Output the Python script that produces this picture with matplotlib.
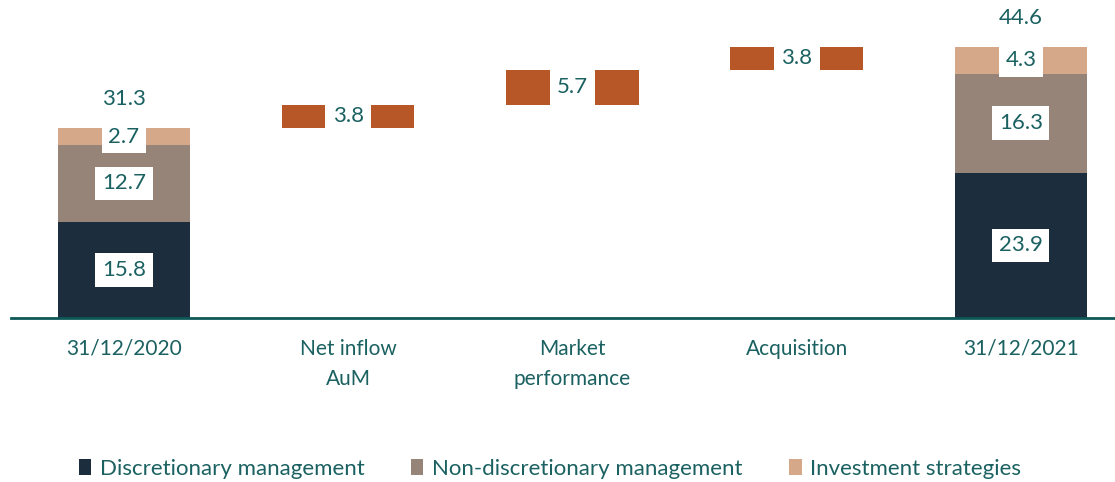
import matplotlib
matplotlib.use("Agg")
import matplotlib.pyplot as plt
from matplotlib.patches import Patch
import numpy as np

categories = ['31/12/2020', 'Net inflow\nAuM', 'Market\nperformance', 'Acquisition', '31/12/2021']
discretionary = [15.8, 23.9]
non_discretionary = [12.7, 16.3]
investment = [2.7, 4.3]
totals = [31.3, 44.6]
changes = [3.8, 5.7, 3.8]
legend_labels = ['Discretionary management', 'Non-discretionary management', 'Investment strategies']

C_DISC = '#1c2e3d'
C_NON = '#968479'
C_INV = '#d4a888'
C_CHG = '#b75728'
C_TXT = '#1b6161'
C_AXIS = '#0e5858'

plt.rcParams['font.family'] = ['Lato', 'DejaVu Sans']

fig = plt.figure(figsize=(11.15, 4.82), dpi=100)
ax = fig.add_axes([11/1115, 164/482, 1104/1115, 318/482])

x = np.arange(len(categories))
w = 0.59
ends = [0, 4]

for i, xi in enumerate(ends):
    b0 = 0
    for vals, col in [(discretionary, C_DISC), (non_discretionary, C_NON), (investment, C_INV)]:
        v = vals[i]
        ax.bar(xi, v, w, bottom=b0, color=col, edgecolor='none')
        ax.text(xi, b0 + v / 2, f'{v:.1f}', ha='center', va='center', fontsize=16,
                color=C_TXT, bbox=dict(boxstyle='square,pad=0.3', fc='white', ec='none'), zorder=5)
        b0 += v
    ax.annotate(f'{totals[i]:.1f}', (xi, b0), xytext=(0, 21), textcoords='offset points',
                ha='center', va='center', fontsize=16, color=C_TXT)

base = totals[0]
for j, c in enumerate(changes):
    xi = j + 1
    ax.bar(xi, c, w, bottom=base, color=C_CHG, edgecolor='none')
    ax.text(xi, base + c / 2, f'{c:.1f}', ha='center', va='center', fontsize=16,
            color=C_TXT, bbox=dict(boxstyle='square,pad=0.33', fc='white', ec='none'), zorder=5)
    base += c

ax.set_xlim(-0.504, 4.42)
ax.set_ylim(0, 52.3)
ax.set_xticks(x)
ax.set_xticklabels(categories, fontsize=15, color=C_TXT, linespacing=1.65)
ax.tick_params(axis='x', length=0, pad=15)
ax.set_yticks([])
for s in ['top', 'right', 'left']:
    ax.spines[s].set_visible(False)
ax.spines['bottom'].set_color(C_AXIS)
ax.spines['bottom'].set_linewidth(2)

handles = [Patch(facecolor=c, edgecolor='none') for c in [C_DISC, C_NON, C_INV]]
fig.legend(handles, legend_labels, loc='center', bbox_to_anchor=(550/1115, 1 - 469/482),
           ncol=3, frameon=False, fontsize=16, labelcolor=C_TXT,
           handlelength=0.55, handleheight=0.7, handletextpad=0.4, columnspacing=2.1)

fig.savefig('out.png', dpi=100)
